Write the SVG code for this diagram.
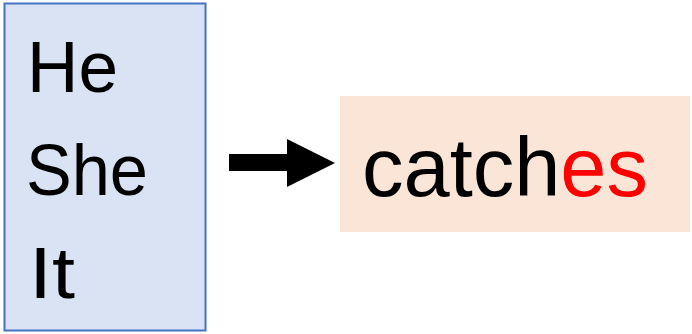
<svg xmlns="http://www.w3.org/2000/svg" width="692" height="334" viewBox="0 0 692 334">
<style>
.t{font-family:"Liberation Sans",Arial,sans-serif;fill:#000}
.big{font-size:73px}
.red{fill:#FF0000}
</style>
<rect width="692" height="334" fill="#fff"/>
<g id="subjects">
<rect x="4.5" y="3.5" width="201" height="327" fill="#DAE3F3" stroke="#4472C4" stroke-width="2"/>
<text class="t big" x="27" y="92" textLength="91" lengthAdjust="spacingAndGlyphs">He</text>
<text class="t big" x="26" y="195" textLength="122" lengthAdjust="spacingAndGlyphs">She</text>
<text class="t big" x="29" y="298" textLength="46" lengthAdjust="spacingAndGlyphs">It</text>
</g>
<g id="connectors">
<polygon points="229,154 287,154 287,139 335,163 287,187 287,171 229,171" fill="#000"/>
</g>
<g id="verb">
<rect x="340" y="96" width="350" height="136" fill="#FBE5D6"/>
<text class="t" x="362" y="196" font-size="83" textLength="286" lengthAdjust="spacingAndGlyphs">catch<tspan class="red">es</tspan></text>
</g>
</svg>
